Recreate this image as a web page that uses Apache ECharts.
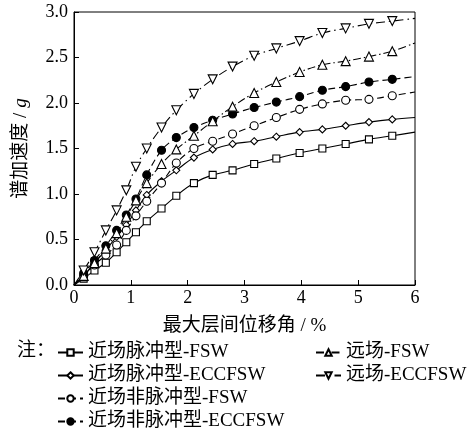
<!DOCTYPE html>
<html>
<head>
<meta charset="utf-8">
<script src="https://cdn.jsdelivr.net/npm/echarts@6/dist/echarts.min.js"></script>
<style>html,body{margin:0;padding:0;background:#fff}#c{width:471px;height:435px}</style>
</head>
<body>
<div id="c"></div>
<script>
// ---- data ----
var driftX = [0, 0.17, 0.36, 0.56, 0.75, 0.92, 1.09, 1.28, 1.54, 1.80, 2.11, 2.44, 2.79, 3.17, 3.56, 3.97, 4.37, 4.78, 5.19, 5.60, 6.0];
var nearPulseFSW     = [0, 0.07, 0.16, 0.245, 0.36, 0.47, 0.58, 0.70, 0.84, 0.98, 1.12, 1.21, 1.26, 1.33, 1.39, 1.45, 1.50, 1.55, 1.60, 1.64, 1.68];
var nearPulseECC     = [0, 0.10, 0.24, 0.385, 0.53, 0.66, 0.82, 0.99, 1.14, 1.26, 1.40, 1.49, 1.55, 1.58, 1.63, 1.68, 1.71, 1.75, 1.79, 1.82, 1.84];
var nearNonPulseFSW  = [0, 0.10, 0.22, 0.33, 0.44, 0.60, 0.76, 0.92, 1.12, 1.34, 1.50, 1.58, 1.66, 1.75, 1.84, 1.93, 1.99, 2.03, 2.04, 2.08, 2.12];
var nearNonPulseECC  = [0, 0.13, 0.27, 0.43, 0.60, 0.77, 0.945, 1.21, 1.48, 1.62, 1.73, 1.81, 1.88, 1.95, 2.01, 2.07, 2.14, 2.18, 2.23, 2.26, 2.29];
var farFSW           = [0, 0.10, 0.24, 0.40, 0.57, 0.75, 0.93, 1.12, 1.33, 1.49, 1.64, 1.80, 1.96, 2.11, 2.23, 2.34, 2.42, 2.46, 2.51, 2.57, 2.66];
var farECC           = [0, 0.16, 0.36, 0.60, 0.82, 1.04, 1.30, 1.50, 1.73, 1.92, 2.10, 2.26, 2.40, 2.52, 2.60, 2.68, 2.77, 2.82, 2.87, 2.90, 2.93];
var seriesNames = ['近场脉冲型-FSW', '近场脉冲型-ECCFSW', '近场非脉冲型-FSW', '近场非脉冲型-ECCFSW', '远场-FSW', '远场-ECCFSW'];
var xTicks = [0, 1, 2, 3, 4, 5, 6];
var yTicks = [0, 0.5, 1.0, 1.5, 2.0, 2.5, 3.0];

var SERIF = '"Liberation Serif", "Noto Sans CJK SC", serif';

function build(vals) {
  return driftX.map(function (x, i) {
    var item = { value: [x, vals[i]] };
    if (i === 0 || i === driftX.length - 1) item.symbol = 'none';
    return item;
  });
}

function mk(name, vals, symbol, size, fill, dash, rotate) {
  return {
    name: name, type: 'line', data: build(vals), smooth: 0.35,
    symbol: symbol, symbolSize: size, symbolRotate: rotate || 0,
    showAllSymbol: true,
    lineStyle: { color: '#000', width: 1.1, type: dash },
    itemStyle: { color: fill, borderColor: '#000', borderWidth: 1.1 },
    emphasis: { disabled: true }, z: 3
  };
}

var chart = echarts.init(document.getElementById('c'), null, { renderer: 'canvas' });
chart.setOption({
  animation: false,
  backgroundColor: '#fff',
  textStyle: { fontFamily: SERIF, color: '#000' },
  grid: { left: 74, right: 56, top: 12, bottom: 150, outerBoundsMode: 'none', containLabel: false,
          show: true, borderColor: '#000', borderWidth: 1, backgroundColor: 'transparent' },
  xAxis: {
    type: 'value', min: 0, max: 6, interval: 1,
    name: '最大层间位移角 / %', nameLocation: 'middle', nameGap: 32,
    nameTextStyle: { fontFamily: SERIF, fontSize: 19, color: '#000' },
    axisLine: { lineStyle: { color: '#000', width: 1 } },
    axisTick: { inside: true, length: 5, lineStyle: { color: '#000' } },
    axisLabel: { fontFamily: SERIF, fontSize: 18, color: '#000', margin: 4, formatter: function (v) { return xTicks.indexOf(v) >= 0 ? String(v) : ''; } },
    splitLine: { show: false }
  },
  yAxis: {
    type: 'value', min: 0, max: 3, interval: 0.5,
    name: '谱加速度 / {i|g}', nameLocation: 'middle', nameGap: 43, nameRotate: 90,
    nameTextStyle: { fontFamily: SERIF, fontSize: 19, color: '#000', rich: { i: { fontStyle: 'italic', fontFamily: SERIF, fontSize: 19 } } },
    axisLine: { lineStyle: { color: '#000', width: 1 } },
    axisTick: { inside: true, length: 5, lineStyle: { color: '#000' } },
    axisLabel: { fontFamily: SERIF, fontSize: 18, color: '#000', margin: 6, formatter: function (v) { return yTicks.indexOf(v) >= 0 ? v.toFixed(1) : ''; } },
    splitLine: { show: false }
  },
  legend: [
    { data: seriesNames.slice(0, 4), orient: 'vertical', left: 52, top: 338, height: 130, itemGap: 4, itemWidth: 25, itemHeight: 8,
      textStyle: { fontFamily: SERIF, fontSize: 19, color: '#000' }, selectedMode: false },
    { data: seriesNames.slice(4), orient: 'vertical', left: 310, top: 338, height: 130, itemGap: 4, itemWidth: 25, itemHeight: 8,
      textStyle: { fontFamily: SERIF, fontSize: 19, color: '#000' }, selectedMode: false }
  ],
  graphic: [
    { type: 'text', left: 17, top: 342, style: { text: '注：', font: '19px ' + SERIF, fill: '#000' } }
  ],
  series: [
    mk(seriesNames[0], nearPulseFSW, 'rect', 7, '#fff', 'solid'),
    mk(seriesNames[1], nearPulseECC, 'diamond', 7, '#fff', 'solid'),
    mk(seriesNames[2], nearNonPulseFSW, 'circle', 8, '#fff', [7, 4]),
    mk(seriesNames[3], nearNonPulseECC, 'circle', 8, '#000', [7, 4]),
    mk(seriesNames[4], farFSW, 'triangle', 9, '#fff', [8, 3, 1.5, 3]),
    mk(seriesNames[5], farECC, 'triangle', 9, '#fff', [9, 4, 1.5, 4], 180)
  ]
});
</script>
</body>
</html>
